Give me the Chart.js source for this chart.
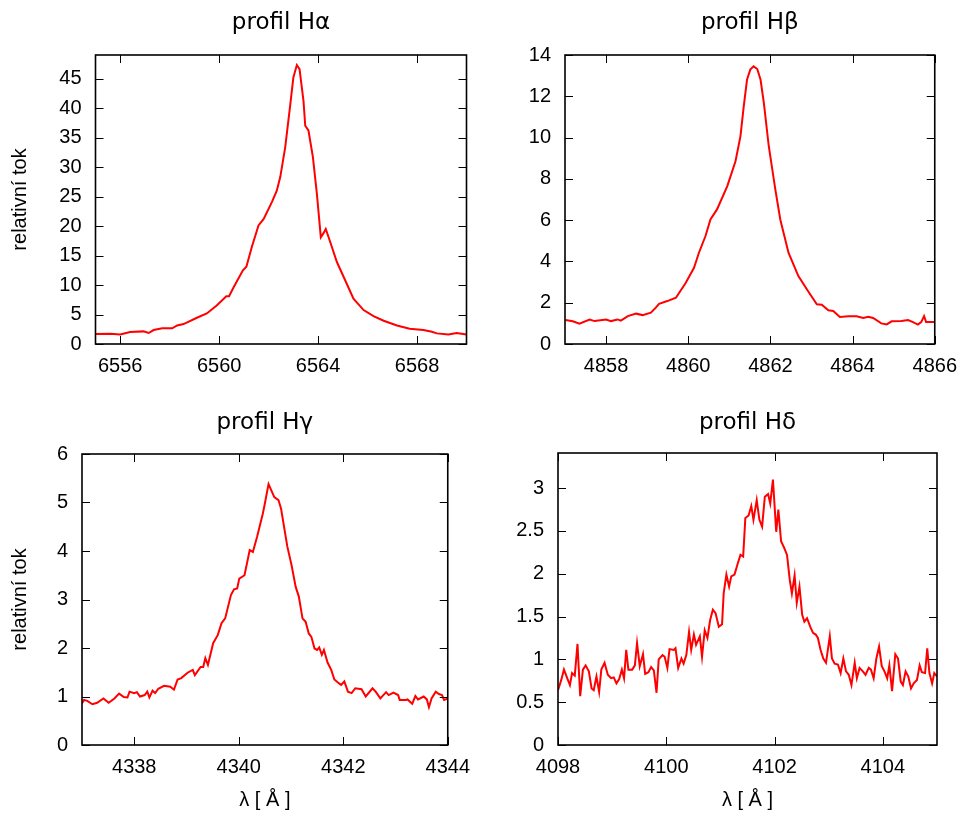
<!DOCTYPE html>
<html>
<head>
<meta charset="utf-8">
<title>profily Balmerových čar</title>
<script src="https://cdn.jsdelivr.net/npm/chart.js@4.4.1/dist/chart.umd.min.js"></script>
<style>
  body { margin: 0; background: #fff; }
  #wrap { position: relative; width: 967px; height: 813px; }
  canvas { position: absolute; }
</style>
</head>
<body>
<div id="wrap">
  <canvas id="cAlpha" width="480" height="400" style="left:0;top:0"></canvas>
  <canvas id="cBeta" width="487" height="400" style="left:480px;top:0"></canvas>
  <canvas id="cGamma" width="480" height="413" style="left:0;top:400px"></canvas>
  <canvas id="cDelta" width="487" height="413" style="left:480px;top:400px"></canvas>
</div>
<script>
// Profily čar - wavelengths (Å) and relative flux

// H alpha
const haX = [6555.0, 6555.6, 6556.0, 6556.4, 6556.94, 6557.15, 6557.35, 6557.7, 6558.1, 6558.3,
             6558.56, 6559.1, 6559.5, 6559.9, 6560.29, 6560.4, 6560.58, 6560.96, 6561.1, 6561.32,
             6561.59, 6561.8, 6562.13, 6562.33, 6562.47, 6562.67, 6562.87, 6563.0, 6563.14, 6563.25,
             6563.41, 6563.48, 6563.61, 6563.79, 6563.95, 6564.11, 6564.22, 6564.31, 6564.49, 6564.76,
             6565.03, 6565.43, 6565.84, 6566.24, 6566.65, 6567.19, 6567.7, 6568.26, 6568.6, 6568.8,
             6569.27, 6569.6, 6570.0];
const haY = [1.69, 1.75, 1.63, 2.03, 2.14, 1.86, 2.37, 2.65, 2.65, 3.15,
             3.38, 4.45, 5.18, 6.54, 8.11, 8.1, 9.58, 12.5, 13.1, 16.45,
             20.1, 21.2, 24.06, 26.0, 28.3, 33.35, 40.4, 45.2, 47.3, 46.6,
             41.2, 37.0, 36.2, 31.7, 25.5, 18.1, 18.8, 19.5, 17.3, 13.9,
             11.4, 7.7, 5.75, 4.73, 3.94, 3.15, 2.6, 2.37, 2.08, 1.8,
             1.63, 1.86, 1.63];
const haXTicks = [6556, 6560, 6564, 6568];
const haYTicks = [0, 5, 10, 15, 20, 25, 30, 35, 40, 45];

// H beta
const hbX = [4857.01, 4857.19, 4857.35, 4857.6, 4857.72, 4858.0, 4858.12, 4858.28, 4858.36, 4858.53,
             4858.73, 4858.89, 4859.09, 4859.21, 4859.29, 4859.49, 4859.7, 4859.94, 4860.14, 4860.26,
             4860.42, 4860.54, 4860.7, 4860.95, 4861.15, 4861.27, 4861.35, 4861.43, 4861.51, 4861.59,
             4861.68, 4861.76, 4861.84, 4861.96, 4862.12, 4862.24, 4862.44, 4862.68, 4862.93, 4863.13,
             4863.25, 4863.41, 4863.53, 4863.69, 4863.9, 4864.1, 4864.26, 4864.38, 4864.5, 4864.7,
             4864.83, 4864.95, 4865.19, 4865.35, 4865.47, 4865.59, 4865.67, 4865.74, 4865.79, 4866.01];
const hbY = [1.16, 1.10, 0.98, 1.18, 1.11, 1.19, 1.11, 1.19, 1.13, 1.35,
             1.47, 1.40, 1.52, 1.76, 1.95, 2.08, 2.24, 2.97, 3.69, 4.42,
             5.23, 6.03, 6.52, 7.65, 8.85, 10.06, 11.5, 12.8, 13.29, 13.45,
             13.32, 12.8, 11.68, 9.58, 7.48, 6.03, 4.42, 3.29, 2.52, 1.92,
             1.90, 1.63, 1.60, 1.31, 1.34, 1.34, 1.26, 1.32, 1.26, 1.0,
             0.95, 1.10, 1.11, 1.16, 1.06, 0.94, 1.06, 1.35, 1.06, 1.06];
const hbXTicks = [4858, 4860, 4862, 4864, 4866];
const hbYTicks = [0, 2, 4, 6, 8, 10, 12, 14];

// H gamma
const hgX = [4336.98, 4337.04, 4337.1, 4337.2, 4337.29, 4337.41, 4337.51, 4337.62, 4337.71, 4337.8,
             4337.87, 4337.91, 4338.0, 4338.05, 4338.11, 4338.2, 4338.25, 4338.29, 4338.35, 4338.4,
             4338.46, 4338.57, 4338.69, 4338.76, 4338.83, 4338.9, 4339.02, 4339.12, 4339.16, 4339.27,
             4339.32, 4339.36, 4339.41, 4339.51, 4339.6, 4339.67, 4339.74, 4339.85, 4339.91, 4339.97,
             4340.01, 4340.11, 4340.21, 4340.27, 4340.35, 4340.46, 4340.5, 4340.57, 4340.68, 4340.76,
             4340.81, 4340.93, 4341.01, 4341.09, 4341.15, 4341.22, 4341.28, 4341.34, 4341.39, 4341.45,
             4341.5, 4341.54, 4341.59, 4341.63, 4341.7, 4341.77, 4341.83, 4341.92, 4341.96, 4342.02,
             4342.09, 4342.16, 4342.23, 4342.35, 4342.43, 4342.56, 4342.62, 4342.71, 4342.82, 4342.87,
             4342.96, 4343.05, 4343.08, 4343.2, 4343.23, 4343.32, 4343.38, 4343.43, 4343.54, 4343.6,
             4343.64, 4343.69, 4343.77, 4343.83, 4343.89, 4343.93, 4344.01];
const hgY = [0.83, 0.93, 0.91, 0.84, 0.87, 0.96, 0.87, 0.96, 1.06, 0.99,
             0.98, 1.10, 1.07, 1.09, 1.0, 1.03, 1.10, 0.98, 1.12, 1.07,
             1.16, 1.22, 1.20, 1.14, 1.35, 1.38, 1.49, 1.55, 1.44, 1.61,
             1.61, 1.79, 1.65, 2.10, 2.27, 2.51, 2.61, 3.09, 3.21, 3.23,
             3.43, 3.50, 4.02, 3.98, 4.29, 4.77, 4.98, 5.38, 5.11, 5.05,
             4.87, 4.09, 3.71, 3.26, 3.06, 2.61, 2.54, 2.30, 2.23, 1.99,
             1.96, 2.01, 1.86, 1.96, 1.70, 1.55, 1.35, 1.27, 1.24, 1.31,
             1.10, 1.07, 1.17, 1.15, 1.0, 1.17, 1.10, 0.96, 1.09, 1.03,
             1.08, 1.03, 0.93, 0.93, 0.94, 0.85, 1.01, 0.94, 1.0, 0.94,
             0.78, 0.96, 1.10, 1.05, 1.03, 0.93, 0.96];
const hgXTicks = [4338, 4340, 4342, 4344];
const hgYTicks = [0, 1, 2, 3, 4, 5, 6];

// H delta
const hdX = [4098.0, 4098.06, 4098.11, 4098.17, 4098.22, 4098.26, 4098.31, 4098.36, 4098.41, 4098.46,
             4098.51, 4098.57, 4098.62, 4098.66, 4098.71, 4098.76, 4098.8, 4098.86, 4098.92, 4098.98,
             4099.03, 4099.08, 4099.13, 4099.18, 4099.22, 4099.26, 4099.3, 4099.37, 4099.42, 4099.46,
             4099.51, 4099.57, 4099.61, 4099.67, 4099.72, 4099.77, 4099.82, 4099.86, 4099.93, 4099.97,
             4100.02, 4100.06, 4100.14, 4100.17, 4100.22, 4100.28, 4100.32, 4100.37, 4100.42, 4100.46,
             4100.51, 4100.55, 4100.62, 4100.66, 4100.71, 4100.76, 4100.81, 4100.86, 4100.91, 4100.97,
             4101.03, 4101.06, 4101.11, 4101.16, 4101.2, 4101.26, 4101.32, 4101.37, 4101.42, 4101.46,
             4101.52, 4101.57, 4101.61, 4101.67, 4101.72, 4101.77, 4101.82, 4101.88, 4101.92, 4101.97,
             4102.03, 4102.07, 4102.12, 4102.18, 4102.23, 4102.28, 4102.32, 4102.37, 4102.41, 4102.46,
             4102.51, 4102.55, 4102.6, 4102.66, 4102.71, 4102.76, 4102.8, 4102.85, 4102.9, 4102.95,
             4103.02, 4103.06, 4103.11, 4103.17, 4103.22, 4103.27, 4103.32, 4103.37, 4103.42, 4103.48,
             4103.52, 4103.57, 4103.63, 4103.68, 4103.74, 4103.78, 4103.83, 4103.88, 4103.93, 4103.98,
             4104.03, 4104.08, 4104.12, 4104.17, 4104.23, 4104.28, 4104.33, 4104.37, 4104.42, 4104.47,
             4104.52, 4104.57, 4104.63, 4104.68, 4104.72, 4104.78, 4104.82, 4104.86, 4104.91, 4104.95,
             4105.0];
const hdY = [0.64, 0.76, 0.88, 0.78, 0.70, 0.84, 0.81, 1.18, 0.57, 0.88,
             0.93, 0.86, 0.66, 0.64, 0.80, 0.62, 0.88, 0.96, 0.82, 0.78,
             0.79, 0.72, 0.77, 0.88, 0.78, 1.11, 0.88, 0.88, 0.93, 1.19,
             0.92, 1.06, 0.83, 0.85, 0.91, 0.87, 0.61, 1.0, 1.05, 1.03,
             0.90, 1.12, 1.11, 1.13, 0.90, 1.01, 0.95, 1.05, 1.32, 1.11,
             1.29, 1.17, 1.27, 1.03, 1.34, 1.25, 1.46, 1.58, 1.54, 1.38,
             1.41, 1.77, 1.99, 1.85, 1.97, 1.99, 2.12, 2.22, 2.20, 2.65,
             2.68, 2.79, 2.63, 2.86, 2.63, 2.55, 2.90, 2.93, 2.82, 3.10,
             2.49, 2.75, 2.38, 2.30, 2.22, 1.93, 1.77, 1.98, 1.66, 1.85,
             1.52, 1.44, 1.48, 1.38, 1.31, 1.29, 1.25, 1.11, 1.01, 0.96,
             1.27, 1.01, 0.95, 0.94, 0.84, 1.01, 0.86, 0.82, 0.70, 0.96,
             0.78, 0.90, 0.86, 0.82, 0.90, 0.88, 0.78, 1.01, 1.15, 0.92,
             0.86, 0.78, 0.93, 0.63, 1.06, 1.01, 0.74, 0.70, 0.86, 0.80,
             0.66, 0.72, 0.76, 0.93, 0.85, 0.84, 1.13, 0.84, 0.72, 0.84,
             0.80];
const hdXTicks = [4098, 4100, 4102, 4104];
const hdYTicks = [0, 0.5, 1, 1.5, 2, 2.5, 3];

const TICK_FONT = { family: "'Liberation Sans', Arial, sans-serif", size: 20 };
const TITLE_FONT = "23px 'DejaVu Sans', sans-serif";

// gnuplot-like frame: box, inward mirrored ticks and the panel title
const framePlugin = {
    id: 'frame',
    afterDatasetsDraw(chart, args, opts) {
        const { ctx, chartArea: a, scales: { x, y } } = chart;
        const len = 8;
        ctx.save();
        ctx.strokeStyle = '#000';
        ctx.lineWidth = 1;
        ctx.beginPath();
        x.ticks.forEach(t => {
            const px = Math.round(x.getPixelForValue(t.value)) + 0.5;
            ctx.moveTo(px, a.bottom); ctx.lineTo(px, a.bottom - len);
            ctx.moveTo(px, a.top); ctx.lineTo(px, a.top + len);
        });
        y.ticks.forEach(t => {
            const py = Math.round(y.getPixelForValue(t.value)) + 0.5;
            ctx.moveTo(a.left, py); ctx.lineTo(a.left + len, py);
            ctx.moveTo(a.right, py); ctx.lineTo(a.right - len, py);
        });
        ctx.stroke();
        ctx.lineWidth = 1.6;
        ctx.strokeRect(a.left, a.top, a.right - a.left, a.bottom - a.top);

        ctx.fillStyle = '#000';
        ctx.font = TITLE_FONT;
        ctx.textAlign = 'center';
        ctx.textBaseline = 'alphabetic';
        ctx.fillText(opts.text, (a.left + a.right) / 2, opts.baseline);
        ctx.restore();
    }
};

function makeChart(id, xs, ys, p) {
    const canvas = document.getElementById(id);
    const points = xs.map((v, i) => ({ x: v, y: ys[i] }));

    return new Chart(canvas.getContext('2d'), {
        type: 'line',
        data: {
            datasets: [{
                data: points,
                borderColor: '#ff0000',
                borderWidth: 2,
                pointRadius: 0,
                tension: 0,
                fill: false
            }]
        },
        plugins: [framePlugin],
        options: {
            responsive: false,
            animation: false,
            events: [],
            layout: {
                padding: { top: p.top, right: canvas.width - p.right, left: 0, bottom: 0 }
            },
            plugins: {
                legend: { display: false },
                tooltip: { enabled: false },
                frame: { text: p.title, baseline: 29 }
            },
            scales: {
                x: {
                    type: 'linear',
                    min: p.xMin,
                    max: p.xMax,
                    grid: { display: false, drawTicks: false },
                    border: { display: false },
                    afterBuildTicks: s => { s.ticks = p.xTicks.map(v => ({ value: v })); },
                    afterFit: s => { s.height = canvas.height - p.bottom; },
                    ticks: { font: TICK_FONT, color: '#000', padding: 10, maxRotation: 0,
                             callback: v => String(v) },
                    title: {
                        display: p.xTitle,
                        text: 'λ [ Å ]',
                        font: TICK_FONT,
                        color: '#000',
                        padding: { top: 0, bottom: 1 }
                    }
                },
                y: {
                    type: 'linear',
                    min: p.yMin,
                    max: p.yMax,
                    grid: { display: false, drawTicks: false },
                    border: { display: false },
                    afterBuildTicks: s => { s.ticks = p.yTicks.map(v => ({ value: v })); },
                    afterFit: s => { s.width = p.left; },
                    ticks: { font: TICK_FONT, color: '#000', padding: 14,
                             callback: v => String(v) },
                    title: {
                        display: p.yTitle,
                        text: 'relativní tok',
                        font: TICK_FONT,
                        color: '#000',
                        padding: { top: 8, bottom: 0 }
                    }
                }
            }
        }
    });
}

function initCharts() {
    makeChart('cAlpha', haX, haY, {
        title: 'profil Hα', xMin: 6555, xMax: 6570, yMin: 0, yMax: 49,
        xTicks: haXTicks, yTicks: haYTicks,
        left: 95.5, right: 466.5, top: 55, bottom: 344, xTitle: false, yTitle: true
    });
    makeChart('cBeta', hbX, hbY, {
        title: 'profil Hβ', xMin: 4857, xMax: 4866, yMin: 0, yMax: 14,
        xTicks: hbXTicks, yTicks: hbYTicks,
        left: 85, right: 457, top: 55, bottom: 344, xTitle: false, yTitle: false
    });
    makeChart('cGamma', hgX, hgY, {
        title: 'profil Hγ', xMin: 4337, xMax: 4344, yMin: 0, yMax: 6,
        xTicks: hgXTicks, yTicks: hgYTicks,
        left: 82, right: 466, top: 54, bottom: 345, xTitle: true, yTitle: true
    });
    makeChart('cDelta', hdX, hdY, {
        title: 'profil Hδ', xMin: 4098, xMax: 4105, yMin: 0, yMax: 3.41,
        xTicks: hdXTicks, yTicks: hdYTicks,
        left: 78, right: 457, top: 53, bottom: 345, xTitle: true, yTitle: false
    });
}

document.addEventListener('DOMContentLoaded', initCharts);
</script>
</body>
</html>
